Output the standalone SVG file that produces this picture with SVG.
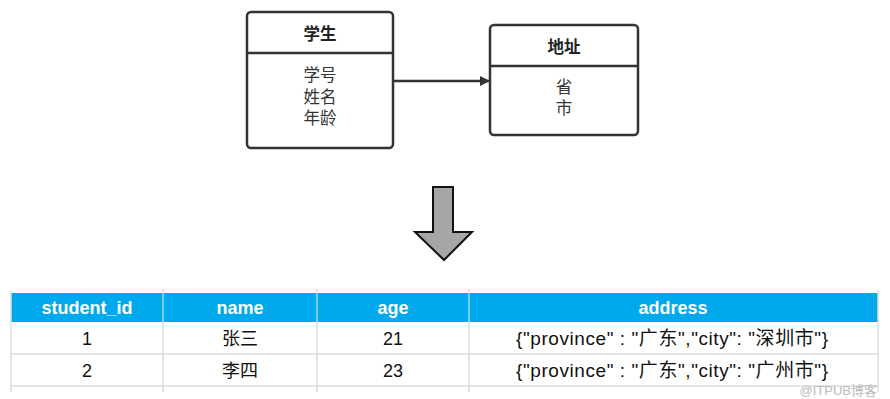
<svg xmlns="http://www.w3.org/2000/svg" width="890" height="399" viewBox="0 0 890 399">
<style>
.box{fill:#fff;stroke:#333;stroke-width:2.5}
.div{stroke:#333;stroke-width:2.5}
.t{font-family:"Liberation Sans","Noto Sans CJK SC",sans-serif;fill:#222;text-anchor:middle}
.title{font-size:16.5px;font-weight:bold}
.item{font-size:16.5px;fill:#333}
.hd{font-family:"Liberation Sans","Noto Sans CJK SC",sans-serif;font-size:18px;font-weight:bold;fill:#fff;text-anchor:middle}
.cell{font-family:"Liberation Sans","Noto Sans CJK SC",sans-serif;font-size:18px;fill:#111;text-anchor:middle}
.addr{font-size:19px}
.grid{stroke:#ddd;stroke-width:1.5}
</style>
<defs>
<marker id="ah" markerWidth="10" markerHeight="10" refX="9" refY="5" orient="auto" markerUnits="userSpaceOnUse" viewBox="0 0 10 10">
<path d="M0,0 L10,5 L0,10 Z" fill="#333"/>
</marker>
</defs>
<g id="student">
<rect class="box" x="247" y="12" width="146" height="136" rx="4"/>
<line class="div" x1="247" y1="53" x2="393" y2="53"/>
<text class="t title" x="320" y="40">学生</text>
<text class="t item" x="320" y="81">学号</text>
<text class="t item" x="320" y="103">姓名</text>
<text class="t item" x="320" y="124">年龄</text>
</g>
<g id="address">
<rect class="box" x="490" y="25" width="148" height="110" rx="4"/>
<line class="div" x1="490" y1="66" x2="638" y2="66"/>
<text class="t title" x="564" y="53">地址</text>
<text class="t item" x="564" y="93">省</text>
<text class="t item" x="564" y="114">市</text>
</g>
<g id="connectors">
<line x1="394" y1="81" x2="489" y2="81" stroke="#333" stroke-width="2.5" marker-end="url(#ah)"/>
</g>
<g id="down-arrow">
<path d="M433,187 L453,187 L453,232 L472,232 L444,260 L415,232 L433,232 Z" fill="#a6a6a6" stroke="#111" stroke-width="2" stroke-linejoin="miter"/>
</g>
<g id="table">
<rect x="11" y="293" width="867" height="29" fill="#00a9ec"/>
<line class="grid" x1="11" y1="290" x2="11" y2="392"/>
<line class="grid" x1="878" y1="290" x2="878" y2="392"/>
<line stroke="#9fdcf5" stroke-width="1.5" x1="163" y1="293" x2="163" y2="322"/>
<line stroke="#9fdcf5" stroke-width="1.5" x1="317" y1="293" x2="317" y2="322"/>
<line stroke="#9fdcf5" stroke-width="1.5" x1="469" y1="293" x2="469" y2="322"/>
<line class="grid" x1="163" y1="289" x2="163" y2="293"/>
<line class="grid" x1="317" y1="289" x2="317" y2="293"/>
<line class="grid" x1="469" y1="289" x2="469" y2="293"/>
<line class="grid" x1="163" y1="322" x2="163" y2="392"/>
<line class="grid" x1="317" y1="322" x2="317" y2="392"/>
<line class="grid" x1="469" y1="322" x2="469" y2="392"/>
<line class="grid" x1="11" y1="354" x2="878" y2="354"/>
<line class="grid" x1="11" y1="386" x2="878" y2="386"/>
<text class="hd" x="87" y="314">student_id</text>
<text class="hd" x="240" y="314">name</text>
<text class="hd" x="393" y="314">age</text>
<text class="hd" x="673" y="314">address</text>
<text class="cell" x="87" y="345">1</text>
<text class="cell" x="240" y="345">张三</text>
<text class="cell" x="393" y="345">21</text>
<text class="cell addr" x="672" y="345" textLength="312" lengthAdjust="spacing">{"province" : "广东","city": "深圳市"}</text>
<text class="cell" x="87" y="377">2</text>
<text class="cell" x="240" y="377">李四</text>
<text class="cell" x="393" y="377">23</text>
<text class="cell addr" x="672" y="377" textLength="312" lengthAdjust="spacing">{"province" : "广东","city": "广州市"}</text>
</g>
<text x="877" y="395" font-family="Liberation Sans,Noto Sans CJK SC,sans-serif" font-size="13" fill="#bbb" text-anchor="end">@ITPUB博客</text>
</svg>
